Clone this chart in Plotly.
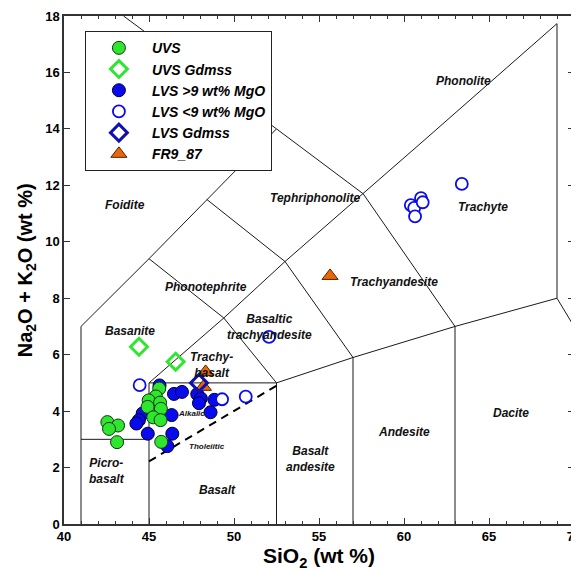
import plotly.graph_objects as go

# ---- data ----
uvs_x = [42.55, 43.18, 42.65, 43.12, 45.60, 45.40, 44.98, 45.65, 44.92, 45.70, 45.25, 45.68, 45.72]
uvs_y = [3.61, 3.49, 3.37, 2.90, 4.80, 4.52, 4.38, 4.30, 4.15, 4.08, 3.78, 3.68, 2.91]

uvs_gd_x = [44.41, 46.57]
uvs_gd_y = [6.28, 5.75]

lvs_hi_x = [45.62, 46.47, 46.94, 44.63, 44.41, 44.26, 46.33, 44.93, 46.37, 46.08, 47.84, 48.05, 47.94, 48.62, 48.85]
lvs_hi_y = [4.91, 4.61, 4.68, 3.92, 3.68, 3.56, 3.86, 3.20, 3.20, 2.76, 4.60, 4.45, 4.28, 3.96, 4.40]

lvs_lo_x = [44.45, 49.30, 50.69, 52.06, 60.40, 60.60, 61.00, 61.10, 60.65, 63.40]
lvs_lo_y = [4.92, 4.42, 4.51, 6.63, 11.30, 11.20, 11.55, 11.40, 10.90, 12.05]

lvs_gd_x = [47.94]
lvs_gd_y = [5.00]

fr_x = [48.33, 48.20, 55.65]
fr_y = [5.39, 4.86, 8.79]

# TAS field boundaries (SiO2, Na2O+K2O)
boundaries = [
    [(41, 0), (41, 7), (45, 9.4), (48.4, 11.5), (52.5, 14), (43.5, 18)],
    [(41, 3), (45, 3)],
    [(45, 0), (45, 5), (49.4, 7.3), (52.5, 5)],
    [(45, 5), (52.5, 5), (57, 5.9), (63, 7), (69, 8), (70, 7)],
    [(52.5, 0), (52.5, 5)],
    [(57, 0), (57, 5.9)],
    [(63, 0), (63, 7)],
    [(45, 9.4), (49.4, 7.3), (53, 9.3), (57.6, 11.7), (61, 13.5), (69, 17.73)],
    [(48.4, 11.5), (53, 9.3), (57, 5.9)],
    [(52.5, 14), (57.6, 11.7), (63, 7)],
    [(69, 8), (69, 17.73)],
]
alk_thol_x = [45.0, 52.5]
alk_thol_y = [2.22, 4.9]

field_labels = [
    ("Phonolite", 63.5, 15.7, 12),
    ("Foidite", 43.6, 11.3, 12),
    ("Tephriphonolite", 54.8, 11.55, 12),
    ("Trachyte", 64.65, 11.25, 12),
    ("Phonotephrite", 48.35, 8.4, 12),
    ("Trachyandesite", 59.4, 8.57, 12),
    ("Basaltic<br>trachyandesite", 52.06, 6.97, 12),
    ("Basanite", 43.9, 6.83, 12),
    ("Trachy-<br>basalt", 48.7, 5.63, 12),
    ("Alkalic", 47.5, 3.93, 8),
    ("Tholeiitic", 48.4, 2.73, 8),
    ("Picro-<br>basalt", 42.5, 1.88, 12),
    ("Basalt", 49.0, 1.2, 12),
    ("Basalt<br>andesite", 54.5, 2.3, 12),
    ("Andesite", 60.0, 3.26, 12),
    ("Dacite", 66.3, 3.93, 12),
]

GREEN = "#2ee62e"
BLUE = "#0a0aee"
ORANGE = "#ec6608"
FONT = "Liberation Sans, Arial, sans-serif"

fig = go.Figure()

for seg in boundaries:
    fig.add_trace(go.Scatter(x=[p[0] for p in seg], y=[p[1] for p in seg], mode="lines",
                             line=dict(color="#1a1a1a", width=1), showlegend=False, hoverinfo="skip"))
fig.add_trace(go.Scatter(x=alk_thol_x, y=alk_thol_y, mode="lines",
                         line=dict(color="black", width=2, dash="8px,6px"), showlegend=False, hoverinfo="skip"))

fig.add_trace(go.Scatter(x=lvs_hi_x, y=lvs_hi_y, mode="markers", name="LVS >9 wt% MgO", legendrank=3,
                         marker=dict(symbol="circle", size=13, color=BLUE, line=dict(color="#000033", width=1))))
fig.add_trace(go.Scatter(x=uvs_x, y=uvs_y, mode="markers", name="UVS", legendrank=1,
                         marker=dict(symbol="circle", size=13, color=GREEN, line=dict(color="#113311", width=1))))
fig.add_trace(go.Scatter(x=lvs_lo_x, y=lvs_lo_y, mode="markers", name="LVS <9 wt% MgO", legendrank=4,
                         marker=dict(symbol="circle", size=12, color="white", line=dict(color=BLUE, width=1.8))))
fig.add_trace(go.Scatter(x=fr_x, y=fr_y, mode="markers", name="FR9_87", legendrank=6,
                         marker=dict(symbol="triangle-up", size=14, color=ORANGE, line=dict(color="#552200", width=1))))
fig.add_trace(go.Scatter(x=uvs_gd_x, y=uvs_gd_y, mode="markers", name="UVS Gdmss", legendrank=2,
                         marker=dict(symbol="diamond-open", size=13, color=GREEN, line=dict(color=GREEN, width=3))))
fig.add_trace(go.Scatter(x=lvs_gd_x, y=lvs_gd_y, mode="markers", name="LVS Gdmss", legendrank=5,
                         marker=dict(symbol="diamond-open", size=13, color="#1010b0", line=dict(color="#1010b0", width=3))))

for text, x, y, size in field_labels:
    fig.add_annotation(x=x, y=y, text="<b><i>" + text + "</i></b>", showarrow=False,
                       font=dict(family=FONT, size=size, color="#111"), align="center")

# y-axis title as a rotated annotation, centred on the plot height
fig.add_annotation(xref="paper", yref="paper", x=-0.074, y=0.5, xanchor="center", yanchor="middle",
                   textangle=-90, showarrow=False,
                   text="<b>Na<sub>2</sub>O + K<sub>2</sub>O (wt %)</b>",
                   font=dict(family=FONT, size=20, color="black"))

fig.update_layout(
    width=579, height=572,
    margin=dict(l=56, r=13, t=8, b=56, autoexpand=False),
    paper_bgcolor="white", plot_bgcolor="white",
    font=dict(family=FONT, color="black"),
    legend=dict(x=0.041, y=0.97, xanchor="left", yanchor="top",
                bgcolor="white", bordercolor="#222", borderwidth=1,
                itemwidth=56,
                font=dict(family=FONT, size=14, color="black", weight="bold", style="italic")),
    xaxis=dict(range=[40, 70], tickvals=[40, 45, 50, 55, 60, 65, 70], ticks="inside", ticklen=6,
               tickcolor="#333", showline=True, linecolor="#333", linewidth=1.5, mirror="ticks",
               showgrid=False, zeroline=False, automargin=False,
               minor=dict(dtick=1, ticks="inside", ticklen=3, tickcolor="#333"),
               tickfont=dict(family=FONT, size=13, weight="bold"),
               title=dict(text="<b>SiO<sub>2</sub> (wt %)</b>", font=dict(family=FONT, size=21), standoff=3)),
    yaxis=dict(range=[0, 18], dtick=2, ticks="inside", ticklen=6,
               tickcolor="#333", showline=True, linecolor="#333", linewidth=1.5, mirror="ticks",
               showgrid=False, zeroline=False, automargin=False,
               tickfont=dict(family=FONT, size=13, weight="bold")),
)

fig.write_html("out.html")
